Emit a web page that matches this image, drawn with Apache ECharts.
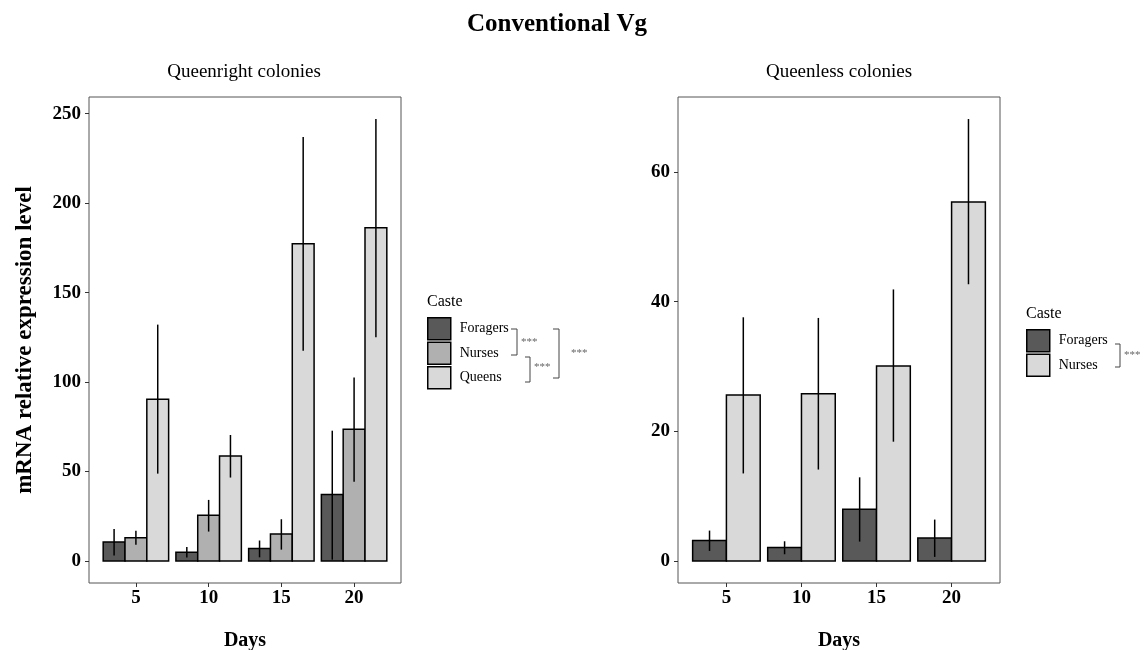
<!DOCTYPE html>
<html>
<head>
<meta charset="utf-8">
<script src="https://cdn.jsdelivr.net/npm/echarts@6/dist/echarts.min.js"></script>
<style>html,body{margin:0;padding:0;background:#fff;}#c{width:1145px;height:650px;}</style>
</head>
<body>
<div id="c"></div>
<script>
// ---- data ----
const days = [5, 10, 15, 20];
const qrForagers = [10.6, 4.8, 6.9, 37.1];
const qrForagersLo = [3.0, 1.9, 2.0, 0.7];
const qrForagersHi = [17.9, 7.8, 11.4, 72.8];
const qrNurses = [13.0, 25.5, 15.1, 73.6];
const qrNursesLo = [9.1, 16.4, 6.3, 44.2];
const qrNursesHi = [16.8, 34.1, 23.3, 102.5];
const qrQueens = [90.4, 58.7, 177.3, 186.3];
const qrQueensLo = [48.8, 46.6, 117.5, 125.0];
const qrQueensHi = [132.1, 70.4, 237.0, 247.0];
const qlForagers = [3.14, 2.06, 7.97, 3.55];
const qlForagersLo = [1.54, 1.03, 2.98, 0.62];
const qlForagersHi = [4.68, 3.03, 12.9, 6.38];
const qlNurses = [25.6, 25.8, 30.1, 55.4];
const qlNursesLo = [13.5, 14.1, 18.4, 42.7];
const qlNursesHi = [37.6, 37.5, 41.9, 68.2];
const leftYTicks = [0, 50, 100, 150, 200, 250];
const rightYTicks = [0, 20, 40, 60];
const xTicks = [5, 10, 15, 20];

const FONT = "'Liberation Serif', 'Times New Roman', serif";
const C_FOR = '#595959', C_NUR = '#b0b0b0', C_QUE = '#d9d9d9';

function rows(v, lo, hi) { return days.map((d, i) => [d, v[i], lo[i], hi[i]]); }

function render(offset, width, color) {
  return function (params, api) {
    const x = api.value(0), v = api.value(1), lo = api.value(2), hi = api.value(3);
    const p0 = api.coord([x + offset - width / 2, v]);
    const p1 = api.coord([x + offset + width / 2, 0]);
    const e0 = api.coord([x + offset, lo]);
    const e1 = api.coord([x + offset, hi]);
    return {
      type: 'group',
      children: [
        { type: 'rect', shape: { x: p0[0], y: p0[1], width: p1[0] - p0[0], height: p1[1] - p0[1] },
          style: { fill: color, stroke: '#000', lineWidth: 1.5 } },
        { type: 'line', z2: 10, shape: { x1: e0[0], y1: e0[1], x2: e1[0], y2: e1[1] },
          style: { stroke: '#000', lineWidth: 1.5 } }
      ]
    };
  };
}

function xAxis(gi) {
  return {
    type: 'value', gridIndex: gi, min: 1.775, max: 23.225,
    name: 'Days', nameLocation: 'middle', nameGap: 48,
    nameTextStyle: { fontFamily: FONT, fontWeight: 'bold', fontSize: 20, color: '#000' },
    axisLine: { show: false, onZero: false },
    axisTick: { show: true, length: 4, customValues: xTicks, lineStyle: { color: '#333' } },
    axisLabel: { customValues: xTicks, fontFamily: FONT, fontWeight: 'bold', fontSize: 19, color: '#000', margin: 6 },
    splitLine: { show: false }
  };
}
function yAxis(gi, min, max, ticks, name) {
  return {
    type: 'value', gridIndex: gi, min: min, max: max,
    name: name, nameLocation: 'middle', nameGap: 52,
    nameTextStyle: { fontFamily: FONT, fontWeight: 'bold', fontSize: 23, color: '#000' },
    axisLine: { show: false, onZero: false },
    axisTick: { show: true, length: 4, customValues: ticks, lineStyle: { color: '#333' } },
    axisLabel: { customValues: ticks, fontFamily: FONT, fontWeight: 'bold', fontSize: 19, color: '#000', margin: 8 },
    splitLine: { show: false }
  };
}

const grey = '#666';
const txt = (x, y, t, opts) => Object.assign({ type: 'text', x: x, y: y,
  style: Object.assign({ text: t, fontFamily: FONT, fill: '#000', textAlign: 'center', textVerticalAlign: 'middle' }, opts || {}) });
const pl = (pts) => ({ type: 'polyline', shape: { points: pts }, style: { stroke: '#444', lineWidth: 1, fill: null } });

const legendBase = { orient: 'vertical', padding: 0, itemWidth: 23, itemHeight: 22, itemGap: 1, icon: 'rect',
  itemStyle: { borderColor: '#000', borderWidth: 1.5 },
  textStyle: { fontFamily: FONT, fontSize: 14, color: '#000', padding: [0, 0, 0, 4], lineHeight: 16 },
  selectedMode: false };

const option = {
  animation: false,
  backgroundColor: '#fff',
  grid: [
    { left: 89, top: 97, width: 312, height: 486, show: true, borderColor: '#555', borderWidth: 1, backgroundColor: 'transparent', outerBoundsMode: 'none', containLabel: false },
    { left: 678, top: 97, width: 322, height: 486, show: true, borderColor: '#555', borderWidth: 1, backgroundColor: 'transparent', outerBoundsMode: 'none', containLabel: false }
  ],
  xAxis: [xAxis(0), xAxis(1)],
  yAxis: [yAxis(0, -12.35, 259.35, leftYTicks, 'mRNA relative expression level'), yAxis(1, -3.41, 71.6, rightYTicks, '')],
  legend: [
    Object.assign({}, legendBase, { left: 427, top: 317,
      data: [{ name: 'Foragers', itemStyle: { color: C_FOR } }, { name: 'Nurses', itemStyle: { color: C_NUR } }, { name: 'Queens', itemStyle: { color: C_QUE } }] }),
    Object.assign({}, legendBase, { left: 1026, top: 329,
      data: [{ name: 'Foragers', itemStyle: { color: C_FOR } }, { name: 'Nurses', itemStyle: { color: C_QUE } }] })
  ],
  series: [
    { type: 'custom', name: 'Foragers', xAxisIndex: 0, yAxisIndex: 0, itemStyle: { color: C_FOR },
      renderItem: render(-1.5, 1.5, C_FOR), data: rows(qrForagers, qrForagersLo, qrForagersHi) },
    { type: 'custom', name: 'Nurses', xAxisIndex: 0, yAxisIndex: 0, itemStyle: { color: C_NUR },
      renderItem: render(0, 1.5, C_NUR), data: rows(qrNurses, qrNursesLo, qrNursesHi) },
    { type: 'custom', name: 'Queens', xAxisIndex: 0, yAxisIndex: 0, itemStyle: { color: C_QUE },
      renderItem: render(1.5, 1.5, C_QUE), data: rows(qrQueens, qrQueensLo, qrQueensHi) },
    { type: 'custom', name: 'Foragers', xAxisIndex: 1, yAxisIndex: 1, itemStyle: { color: C_FOR },
      renderItem: render(-1.125, 2.25, C_FOR), data: rows(qlForagers, qlForagersLo, qlForagersHi) },
    { type: 'custom', name: 'Nurses', xAxisIndex: 1, yAxisIndex: 1, itemStyle: { color: C_QUE },
      renderItem: render(1.125, 2.25, C_QUE), data: rows(qlNurses, qlNursesLo, qlNursesHi) }
  ],
  graphic: [
    txt(557, 25, 'Conventional Vg', { fontWeight: 'bold', fontSize: 25 }),
    txt(244, 72, 'Queenright colonies', { fontSize: 19 }),
    txt(839, 72, 'Queenless colonies', { fontSize: 19 }),
    txt(427, 302, 'Caste', { fontSize: 16, textAlign: 'left' }),
    txt(1026, 314, 'Caste', { fontSize: 16, textAlign: 'left' }),
    // left brackets
    pl([[511, 329], [517, 329], [517, 355], [511, 355]]),
    txt(521, 342, '***', { fontSize: 11, fill: grey, textAlign: 'left' }),
    pl([[525, 357], [530, 357], [530, 382], [525, 382]]),
    txt(534, 367, '***', { fontSize: 11, fill: grey, textAlign: 'left' }),
    pl([[553, 329], [559, 329], [559, 378], [553, 378]]),
    txt(571, 353, '***', { fontSize: 11, fill: grey, textAlign: 'left' }),
    // right bracket
    pl([[1115, 344], [1120, 344], [1120, 367], [1115, 367]]),
    txt(1124, 355, '***', { fontSize: 11, fill: grey, textAlign: 'left' })
  ]
};
echarts.init(document.getElementById('c'), null, { renderer: 'canvas' }).setOption(option);
</script>
</body>
</html>
